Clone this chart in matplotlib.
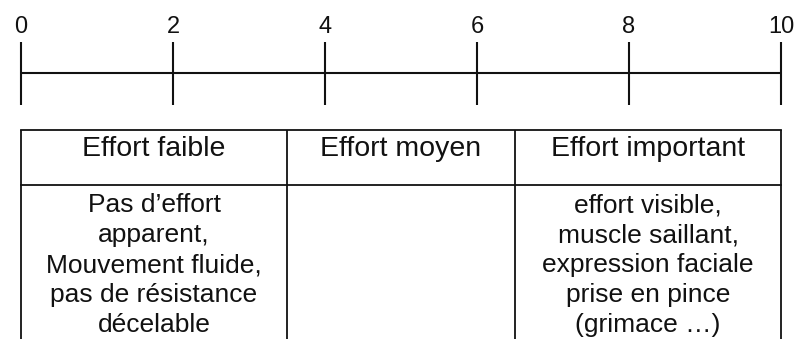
import matplotlib
matplotlib.use('Agg')
import matplotlib.pyplot as plt

plt.rcParams['font.family'] = ['Liberation Sans', 'DejaVu Sans']

# echelle de 0 a 10
ticks = [0, 2, 4, 6, 8, 10]

# colonnes du tableau (bornes sur l'echelle)
bornes = [0, 3.5, 6.5, 10]
titres = ['Effort faible', 'Effort moyen', 'Effort important']
descriptions = [
    ["Pas d\u2019effort", "apparent,", "Mouvement fluide,", "pas de résistance", "décelable"],
    [],
    ["effort visible,", "muscle saillant,", "expression faciale", "prise en pince", "(grimace \u2026)"],
]

ink = '#111111'
W, H = 798, 339

fig = plt.figure(figsize=(W / 100, H / 100), dpi=100)
ax = fig.add_axes([0, 0, 1, 1])
ax.axis('off')
# 0 -> 21 px, 10 -> 781 px ; y en pixels vers le bas
ppu = 76.0
ax.set_xlim(-21 / ppu, (W - 21) / ppu)
ax.set_ylim(H, 0)

# echelle
ax.plot([ticks[0], ticks[-1]], [72.5, 72.5], color=ink, lw=1.5, solid_capstyle='butt')
ax.vlines(ticks, 42, 105, color=ink, lw=1.5)
for t in ticks:
    ax.text(t, 33, str(t), ha='center', va='baseline', fontsize=17, color=ink)

# tableau
y_top, y_row, y_bot = 130, 185, H + 5
ax.plot([bornes[0], bornes[-1]], [y_top, y_top], color=ink, lw=1.3, solid_capstyle='projecting')
ax.plot([bornes[0], bornes[-1]], [y_row, y_row], color=ink, lw=1.3, solid_capstyle='projecting')
ax.vlines(bornes, y_top, y_bot, color=ink, lw=1.3)

for i, (titre, desc) in enumerate(zip(titres, descriptions)):
    xc = (bornes[i] + bornes[i + 1]) / 2
    ax.text(xc, 156, titre, ha='center', va='baseline', fontsize=20.5, color=ink)
    for k, ligne in enumerate(desc):
        ax.text(xc, 212 + 30 * k, ligne, ha='center', va='baseline', fontsize=19, color=ink)

fig.savefig('out.png', dpi=100)
